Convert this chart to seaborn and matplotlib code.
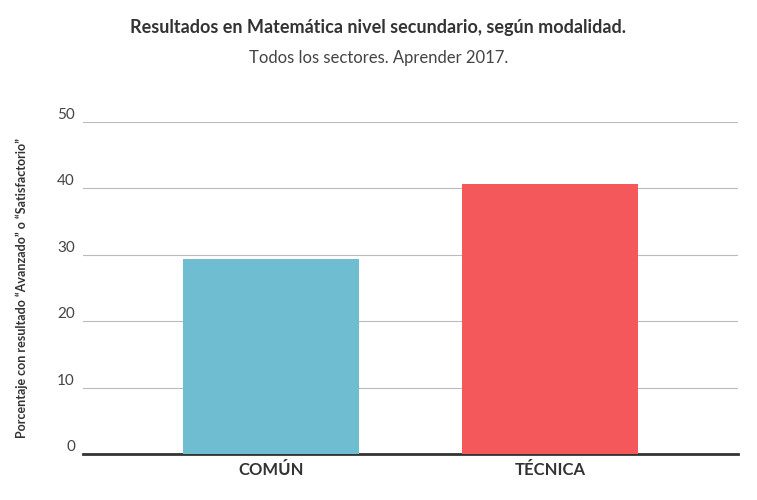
import matplotlib
matplotlib.use("Agg")
import matplotlib.pyplot as plt
import seaborn as sns
import pandas as pd

categories = ["COMÚN", "TÉCNICA"]
values = [29.4, 40.7]
colors = ["#6fbdd1", "#f4585a"]
yticks = [0, 10, 20, 30, 40, 50]

plt.rcParams["font.family"] = "Lato"
fig = plt.figure(figsize=(7.57, 5), dpi=100)
ax = fig.add_axes([0.110, 0.092, 0.865, 0.664])
df = pd.DataFrame({"cat": categories, "val": values})
sns.barplot(data=df, x="cat", y="val", hue="cat", palette=colors, width=0.63,
            legend=False, ax=ax, zorder=3, saturation=1)
ax.set_xlim(-0.674, 1.674)
ax.set_ylim(0, 50)
ax.set_yticks(yticks)
ax.yaxis.grid(True, color="#bbbbbb", linewidth=0.8, zorder=0)
ax.xaxis.grid(False)
for s in ["top", "right", "left"]:
    ax.spines[s].set_visible(False)
ax.spines["bottom"].set_color("#333333")
ax.spines["bottom"].set_linewidth(2)
ax.tick_params(axis="both", length=0)
ax.tick_params(axis="y", labelsize=11, labelcolor="#444444", pad=6)
for lbl in ax.get_yticklabels():
    lbl.set_va("bottom")
ax.tick_params(axis="x", labelsize=12, labelcolor="#333333", pad=6)
for lbl in ax.get_xticklabels():
    lbl.set_fontweight("bold")
ax.set_xlabel("")
ax.set_ylabel("Porcentaje con resultado “Avanzado” o “Satisfactorio”",
              fontsize=9, fontweight="bold", color="#333333", labelpad=35)
ax.yaxis.set_label_coords(-0.085, 0.5)
fig.text(0.5, 0.935, "Resultados en Matemática nivel secundario, según modalidad.",
         ha="center", fontsize=13, fontweight="bold", color="#333333")
fig.text(0.5, 0.875, "Todos los sectores. Aprender 2017.",
         ha="center", fontsize=12, color="#444444")
fig.savefig("out.png", dpi=100)
